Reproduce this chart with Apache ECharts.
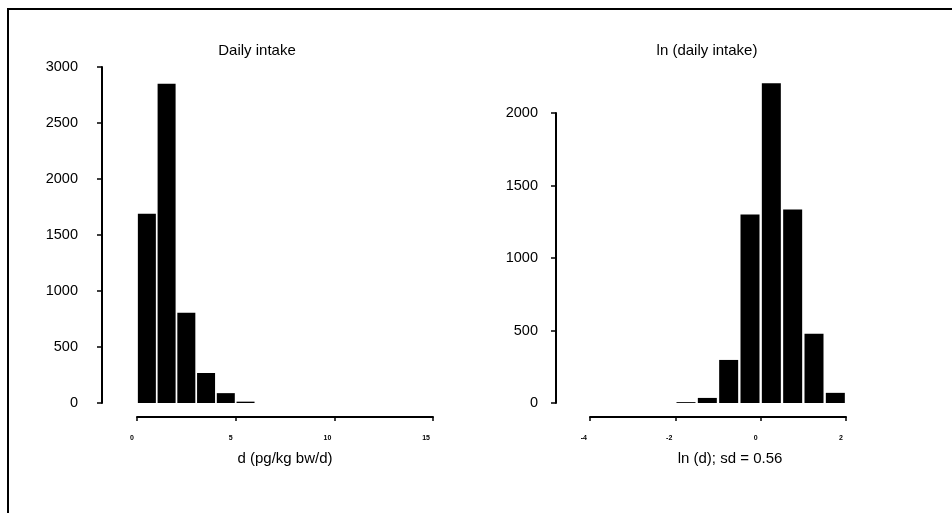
<!DOCTYPE html>
<html>
<head>
<meta charset="utf-8">
<script src="https://cdn.jsdelivr.net/npm/echarts@6/dist/echarts.min.js"></script>
<style>
  html, body { margin: 0; padding: 0; background: #fff; }
  #chart { width: 952px; height: 513px; }
  #frame { position: absolute; left: 7px; top: 8px; width: 960px; height: 520px;
           border-left: 2px solid #000; border-top: 2px solid #000; pointer-events: none; }
</style>
</head>
<body>
<div id="chart"></div>
<div id="frame"></div>
<script>
// Left panel: histogram of daily intake d (pg/kg bw/d), bins of width 1
const leftBinCenters = [0.5, 1.5, 2.5, 3.5, 4.5, 5.5];
const leftCounts = [1690, 2850, 805, 268, 88, 12];
const leftYTicks = [0, 500, 1000, 1500, 2000, 2500, 3000];
const leftXTicks = [0, 5, 10, 15];

// Right panel: histogram of ln(d), bins of width 0.5
const rightBinCenters = [-1.75, -1.25, -0.75, -0.25, 0.25, 0.75, 1.25, 1.75];
const rightCounts = [6, 35, 297, 1300, 2205, 1335, 478, 70];
const rightYTicks = [0, 500, 1000, 1500, 2000];
const rightXTicks = [-4, -2, 0, 2];

const titles = ['Daily intake', 'ln (daily intake)'];
const xNames = ['d (pg/kg bw/d)', 'ln (d); sd = 0.56'];

const FONT = 'Liberation Sans, Arial, sans-serif';
const chart = echarts.init(document.getElementById('chart'), null, { renderer: 'canvas' });

function yAxisDef(idx, ticks, offset, margin) {
  return {
    type: 'value', gridIndex: idx, position: 'left', offset: offset,
    min: ticks[0], max: ticks[ticks.length - 1], interval: ticks[1] - ticks[0],
    axisLine: { show: true, onZero: false, lineStyle: { color: '#000', width: 2 } },
    axisTick: { show: true, length: 5, lineStyle: { color: '#000', width: 1.5 } },
    axisLabel: { color: '#000', fontSize: 14.5, fontFamily: FONT, margin: margin,
                 formatter: v => String(v) },
    splitLine: { show: false }
  };
}
function xAxisDef(idx, ticks, name, namePad) {
  return {
    type: 'value', gridIndex: idx, position: 'bottom', offset: 14,
    min: ticks[0], max: ticks[ticks.length - 1], interval: ticks[1] - ticks[0],
    name: name, nameLocation: 'middle', nameGap: 34,
    nameTextStyle: { color: '#000', fontSize: 15, fontFamily: FONT, padding: namePad },
    axisLine: { show: true, onZero: false, lineStyle: { color: '#000', width: 2 } },
    axisTick: { show: true, length: 4, lineStyle: { color: '#000', width: 1.5 } },
    axisLabel: { color: '#000', fontSize: 7, fontWeight: 'bold', fontFamily: FONT,
                 margin: 18, align: 'right', padding: [0, 3, 0, 0],
                 formatter: v => String(v) },
    splitLine: { show: false }
  };
}

const option = {
  backgroundColor: '#fff',
  animation: false,
  title: [
    { text: titles[0], left: 252, top: 38, textAlign: 'center',
      textStyle: { color: '#000', fontSize: 15, fontWeight: 'normal', fontFamily: FONT } },
    { text: titles[1], left: 702, top: 38, textAlign: 'center',
      textStyle: { color: '#000', fontSize: 15, fontWeight: 'normal', fontFamily: FONT } }
  ],
  grid: [
    { left: 137, top: 67, width: 296, height: 336 },
    { left: 590, top: 113, width: 256, height: 290 }
  ],
  xAxis: [
    xAxisDef(0, leftXTicks, xNames[0], [0, 0, 0, 0]),
    xAxisDef(1, rightXTicks, xNames[1], [0, 0, 0, 24])
  ],
  yAxis: [
    yAxisDef(0, leftYTicks, 35, 24),
    yAxisDef(1, rightYTicks, 34, 18)
  ],
  series: [
    { type: 'bar', xAxisIndex: 0, yAxisIndex: 0, barWidth: 18, clip: false,
      itemStyle: { color: '#000' },
      data: leftBinCenters.map((c, i) => [c, leftCounts[i]]) },
    { type: 'bar', xAxisIndex: 1, yAxisIndex: 1, barWidth: 19, clip: false,
      itemStyle: { color: '#000' },
      data: rightBinCenters.map((c, i) => [c, rightCounts[i]]) }
  ]
};
chart.setOption(option);
</script>
</body>
</html>
